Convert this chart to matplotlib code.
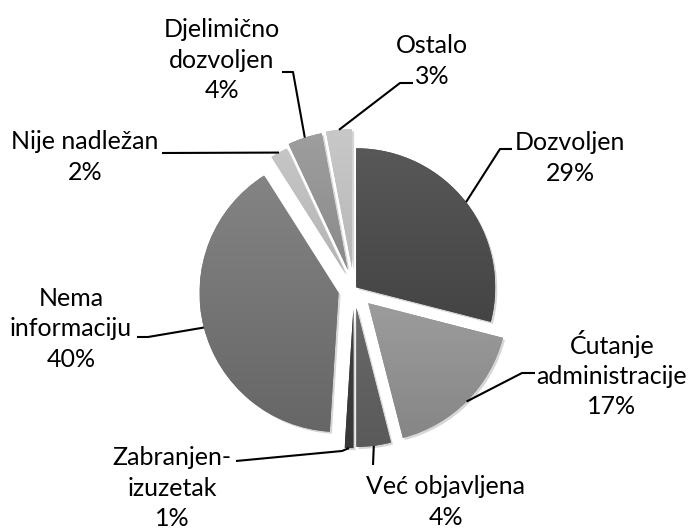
import numpy as np
import matplotlib.pyplot as plt
import matplotlib.transforms as mtransforms
import matplotlib.patheffects as pe
from matplotlib.colors import LinearSegmentedColormap

plt.rcParams['font.family'] = ['Lato', 'DejaVu Sans']

# data
categories = ['Dozvoljen', 'Ćutanje\nadministracije', 'Već objavljena', 'Zabranjen-\nizuzetak',
              'Nema\ninformaciju', 'Nije nadležan', 'Djelimično\ndozvoljen', 'Ostalo']
shares = [29, 17, 4, 1, 40, 2, 4, 3]

# style
explode = [0.02, 0.145, 0.137, 0.145, 0.115, 0.12, 0.145, 0.15]
top_colors = ['#585858', '#9c9c9c', '#686868', '#404040', '#848484', '#c6c6c6', '#9e9e9e', '#c8c8c8']
bottom_colors = ['#444444', '#868686', '#5a5a5a', '#383838', '#666666', '#b4b4b4', '#8a8a8a', '#b8b8b8']

# label centres and leader elbows, in pixels of the 690x530 image (y down)
label_pos = [(570, 158), (612, 374), (446, 502), (172, 488), (71, 329), (85, 157), (222, 60), (432, 61)]
leader_pts = [[(500, 149), (512, 149)], [(522, 373), (535, 373)], [(373, 465)],
              [(342, 451), (236, 461)], [(148, 337), (137, 337)], [(162, 153)],
              [(293, 72), (282, 72)], [(400, 83), (413, 83)]]

W, H = 690, 530
cx, cy, R = 354, 289, 139   # pie centre / radius in pixels

fig = plt.figure(figsize=(6.9, 5.3), dpi=100)
ax = fig.add_axes([0, 0, 1, 1])

wedges, _ = ax.pie(shares, explode=explode, colors=bottom_colors, startangle=90,
                   counterclock=False, radius=1, center=(0, 0),
                   wedgeprops=dict(linewidth=0))

# vertical gradient in every slice, plus a soft shadow
grad = np.linspace(0, 1, 256).reshape(-1, 1)
for w, c0, c1 in zip(wedges, top_colors, bottom_colors):
    w.set_path_effects([pe.SimplePatchShadow(offset=(1.5, -1.5), shadow_rgbFace='0.55', alpha=0.35),
                        pe.Normal()])
    bb = w.get_path().get_extents()
    cmap = LinearSegmentedColormap.from_list('g', [c1, c0])
    im = ax.imshow(grad, cmap=cmap, extent=[bb.x0, bb.x1, bb.y0, bb.y1], origin='lower',
                   aspect='auto', interpolation='bilinear', zorder=w.get_zorder() + 0.5)
    im.set_clip_path(w)

ax.set_xlim(-cx / R, (W - cx) / R)
ax.set_ylim(-(H - cy) / R, cy / R)
ax.set_aspect('equal')
ax.axis('off')

px = mtransforms.Affine2D().scale(1 / W, -1 / H).translate(0, 1) + fig.transFigure

for w, cat, val, pos, elbow in zip(wedges, categories, shares, label_pos, leader_pts):
    mid = np.deg2rad((w.theta1 + w.theta2) / 2)
    ex = w.center[0] + w.r * np.cos(mid)
    ey = w.center[1] + w.r * np.sin(mid)
    pts = [(cx + R * ex, cy - R * ey)] + elbow
    ax.plot([p[0] for p in pts], [p[1] for p in pts], color='black', lw=1.5,
            transform=px, zorder=10, solid_capstyle='butt')
    ax.text(pos[0], pos[1], f'{cat}\n{val}%', transform=px, ha='center', va='center',
            fontsize=18, linespacing=1.38, color='black')

fig.savefig('out.png', dpi=100, facecolor='white')
